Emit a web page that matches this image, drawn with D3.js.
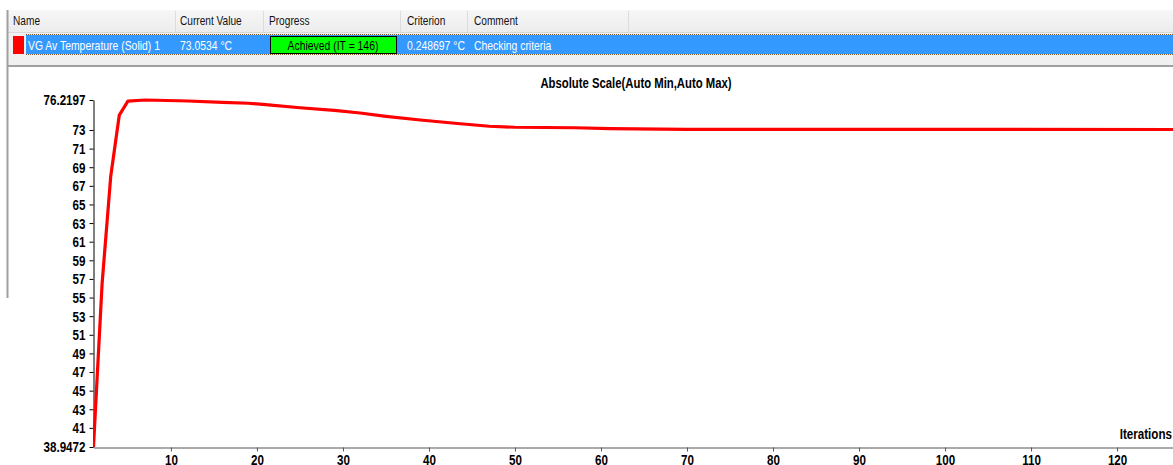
<!DOCTYPE html>
<html><head><meta charset="utf-8">
<script src="https://cdn.jsdelivr.net/npm/d3@7"></script>
<style>
body{margin:0;background:#fff;overflow:hidden}
svg{display:block}
</style>
</head><body>
<svg id="c" width="1173" height="465"></svg>
<script>
// ---- data ----
const iterations   = [1, 2, 3, 4, 5, 7, 12, 16, 19, 21, 25, 29, 32, 35, 39, 43, 47, 50, 57, 61, 70, 127];
const temperatures = [38.9472, 56.5, 68.0, 74.6, 76.1, 76.2197, 76.11, 75.97, 75.87, 75.72, 75.39, 75.11, 74.82, 74.47, 74.07, 73.72, 73.40, 73.29, 73.24, 73.14, 73.06, 73.0534];
const yTickValues  = [38.9472, 41, 43, 45, 47, 49, 51, 53, 55, 57, 59, 61, 63, 65, 67, 69, 71, 73, 76.2197];
const xTickValues  = [10, 20, 30, 40, 50, 60, 70, 80, 90, 100, 110, 120];
const columnNames  = ["Name", "Current Value", "Progress", "Criterion", "Comment"];
const rowCells     = ["VG Av Temperature (Solid) 1", "73.0534 °C", "Achieved (IT = 146)", "0.248697 °C", "Checking criteria"];
const chartTitle   = "Absolute Scale(Auto Min,Auto Max)";
const xAxisTitle   = "Iterations";

const svg = d3.select("#c");
const FONT = '"Liberation Sans Narrow","Arial Narrow","Liberation Sans",Arial,sans-serif';

// horizontally condense text (scale about its own x anchor) to mimic a narrow face
function condense(sel, f) {
  sel.each(function() {
    const t = d3.select(this);
    const x0 = +t.attr("x") || 0;
    t.attr("transform", `translate(${x0 * (1 - f)},0) scale(${f},1)`);
  });
}

// ---- header table ----
const defs = svg.append("defs");
const hg = defs.append("linearGradient").attr("id","hg").attr("x1",0).attr("y1",0).attr("x2",0).attr("y2",1);
hg.append("stop").attr("offset","0").attr("stop-color","#f7f7f7");
hg.append("stop").attr("offset","1").attr("stop-color","#ececec");

svg.append("rect").attr("x",8).attr("y",10).attr("width",1165).attr("height",22).attr("fill","url(#hg)");
svg.append("line").attr("x1",8).attr("x2",1173).attr("y1",32.5).attr("y2",32.5).attr("stroke","#d8d8d8");
const colX = [13, 180, 269, 407, 474];
const sepX = [175, 263, 400, 467, 628];
sepX.forEach(x => svg.append("line").attr("x1",x+0.5).attr("x2",x+0.5).attr("y1",11).attr("y2",32).attr("stroke","#dcdcdc"));
svg.selectAll("text.hdr").data(columnNames).join("text").attr("class","hdr")
  .attr("x",(d,i)=>colX[i]).attr("y",25).attr("font-family",FONT).attr("font-size",13).attr("fill","#111").text(d=>d)
  .call(condense, 0.78);

// selected row
svg.append("rect").attr("x",8).attr("y",33).attr("width",1165).attr("height",23).attr("fill","#f0f0f0");
svg.append("rect").attr("x",26).attr("y",35).attr("width",1147).attr("height",19).attr("fill","#3399ff");
svg.append("line").attr("x1",26).attr("x2",1173).attr("y1",34.5).attr("y2",34.5).attr("stroke","#8a5a2a").attr("stroke-dasharray","1,1");
svg.append("line").attr("x1",26).attr("x2",1173).attr("y1",54.5).attr("y2",54.5).attr("stroke","#8a5a2a").attr("stroke-dasharray","1,1");
svg.append("rect").attr("x",13).attr("y",36).attr("width",11).attr("height",18).attr("fill","#ff0000");
svg.append("rect").attr("x",270.5).attr("y",36.5).attr("width",126).attr("height",17).attr("fill","#00ff00").attr("stroke","#000");
const cellX = [28, 180, 333, 407, 474];
svg.selectAll("text.cell").data(rowCells).join("text").attr("class","cell")
  .attr("x",(d,i)=>cellX[i]).attr("y",50).attr("font-family",FONT).attr("font-size",13)
  .attr("text-anchor",(d,i)=>i===2?"middle":"start")
  .attr("fill",(d,i)=>i===2?"#000":"#fff").text(d=>d)
  .call(condense, 0.8);

// separator strip
svg.append("rect").attr("x",8).attr("y",56).attr("width",1165).attr("height",9).attr("fill","#f0f0f0");
svg.append("rect").attr("x",8).attr("y",65).attr("width",1165).attr("height",2).attr("fill","#a0a0a0");
svg.append("line").attr("x1",7.5).attr("x2",7.5).attr("y1",10).attr("y2",298).attr("stroke","#a0a0a0").attr("stroke-width",2);

// ---- chart ----
const x = d3.scaleLinear().domain([1, 126.5]).range([93.5, 1173]);
const y = d3.scaleLinear().domain([38.9472, 76.2197]).range([447, 100]);

svg.append("text").attr("x",636).attr("y",88).attr("text-anchor","middle")
  .attr("font-family",FONT).attr("font-weight","bold").attr("font-size",15).attr("fill","#000").text(chartTitle)
  .call(condense, 0.755);

const gy = svg.append("g").attr("transform","translate(93.5,0)")
  .call(d3.axisLeft(y).tickValues(yTickValues).tickSize(4).tickSizeOuter(0).tickFormat(d=>String(d)));
gy.selectAll("text").attr("font-family",FONT).attr("font-weight","bold").attr("font-size",15.5).attr("fill","#000").attr("x",-8)
  .call(condense, 0.75);
gy.select(".domain").attr("stroke","#000");

const gx = svg.append("g").attr("transform","translate(0,447.5)")
  .call(d3.axisBottom(x).tickValues(xTickValues).tickSize(4).tickSizeOuter(0));
gx.selectAll("text").attr("font-family",FONT).attr("font-weight","bold").attr("font-size",15.5).attr("fill","#000").attr("y",7)
  .call(condense, 0.75);
gx.select(".domain").attr("stroke","#555");
gx.selectAll(".tick line").attr("stroke","#555");

svg.append("text").attr("x",1172).attr("y",439).attr("text-anchor","end")
  .attr("font-family",FONT).attr("font-weight","bold").attr("font-size",15.5).attr("fill","#000").text(xAxisTitle)
  .call(condense, 0.75);

defs.append("clipPath").attr("id","plot").append("rect").attr("x",93).attr("y",90).attr("width",1080).attr("height",360);
const pts = iterations.map((it,i)=>[it, temperatures[i]]);
svg.append("path").datum(pts).attr("clip-path","url(#plot)")
  .attr("d", d3.line().x(d=>x(d[0])).y(d=>y(d[1])))
  .attr("fill","none").attr("stroke","#ff0000").attr("stroke-width",3.2).attr("stroke-linejoin","round");
</script>
</body></html>
